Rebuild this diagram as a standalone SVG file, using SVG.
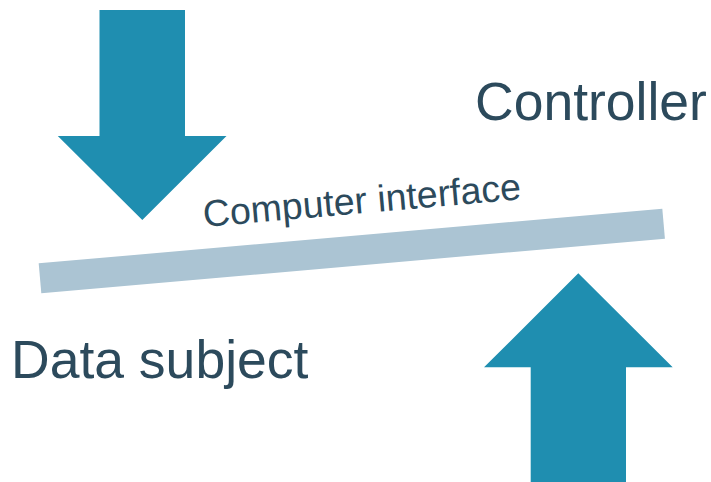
<svg xmlns="http://www.w3.org/2000/svg" width="711" height="482" viewBox="0 0 711 482">
  <style>
    .arrow { fill: #1f8eb0; }
    .bar { fill: #abc4d3; }
    .label { font-family: "Liberation Sans", Arial, sans-serif; fill: #2c4a5c; }
    .big { font-size: 53.5px; }
    .small { font-size: 37.5px; }
  </style>
  <rect width="711" height="482" fill="#ffffff"/>
  <g id="connectors">
    <!-- downward flow into the interface -->
    <polygon class="arrow" points="99.5,10 185,10 185,136 226.5,136 142.3,220 57.8,136 99.5,136"/>
    <!-- upward flow into the interface -->
    <polygon class="arrow" points="530.7,482 626,482 626,367.3 672.7,367.3 578.3,273.3 484,367.3 530.7,367.3"/>
  </g>
  <g id="interface">
    <rect class="bar" x="0" y="-15" width="626" height="30" transform="translate(40,278.3) rotate(-5)"/>
    <text class="label small" transform="translate(204,227) rotate(-5)">Computer interface</text>
  </g>
  <g id="controller">
    <text class="label big" x="475" y="120">Controller</text>
  </g>
  <g id="data-subject">
    <text class="label big" x="11" y="378">Data subject</text>
  </g>
</svg>
